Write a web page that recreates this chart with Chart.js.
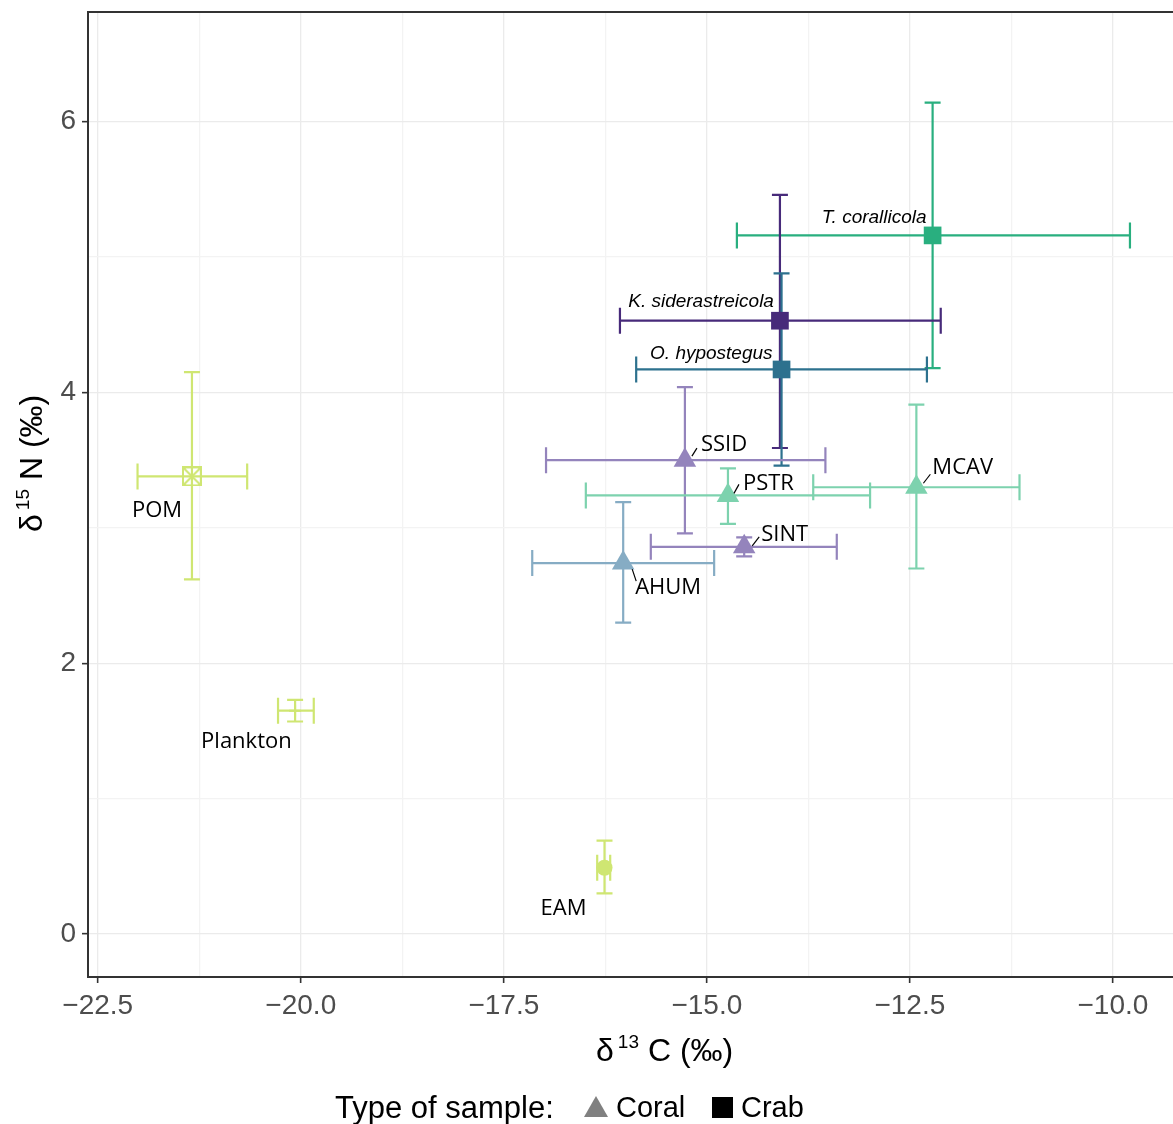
<!DOCTYPE html>
<html><head><meta charset="utf-8">
<script src="https://cdn.jsdelivr.net/npm/chart.js@4"></script>
<style>html,body{margin:0;padding:0;background:#fff}#wrap{width:1173px;height:1124px;position:relative}</style>
</head><body><div id="wrap"><canvas id="c"></canvas></div>
<script>
// ---------- data ----------
const samples   = ['T. corallicola','K. siderastreicola','O. hypostegus','SSID','PSTR','MCAV','SINT','AHUM','POM','Plankton','EAM'];
const sampleType= ['Crab','Crab','Crab','Coral','Coral','Coral','Coral','Coral','Source','Source','Source'];
const d13C      = [-12.22,-14.10,-14.08,-15.27,-14.74,-12.42,-14.54,-16.03,-21.34,-20.07,-16.26];
const d15N      = [  5.16,  4.53,  4.17,  3.50,  3.24,  3.30,  2.86,  2.74,  3.38,  1.65,  0.49];
const d13CLow   = [-14.63,-16.07,-15.87,-16.98,-16.49,-13.69,-15.69,-17.15,-22.01,-20.28,-16.35];
const d13CHigh  = [ -9.79,-12.12,-12.29,-13.54,-12.99,-11.15,-13.40,-14.91,-20.66,-19.84,-16.19];
const d15NLow   = [  4.18,  3.59,  3.46,  2.96,  3.03,  2.70,  2.79,  2.30,  2.62,  1.57,  0.30];
const d15NHigh  = [  6.14,  5.46,  4.88,  4.04,  3.44,  3.91,  2.93,  3.19,  4.15,  1.73,  0.69];
const xTicks = [-22.5,-20,-17.5,-15,-12.5,-10];
const xMinor = [-21.25,-18.75,-16.25,-13.75,-11.25];
const yTicks = [0,2,4,6];
const yMinor = [1,3,5];
const legendTitle = 'Type of sample:';
const legendItems = ['Coral','Crab'];

// ---------- styles / layout ----------
const colors = ['#29AF7F','#472A7A','#2D718E','#9484BC','#7DD2AE','#7DD2AE','#9484BC','#86ACC4','#CFE672','#CFE672','#CFE672'];
const labelLayout = [
  {dx:-6, dy:-12, align:'right', italic:true},
  {dx:-6, dy:-14, align:'right', italic:true},
  {dx:-9, dy:-10, align:'right', italic:true},
  {dx:16, dy:-9,  align:'left', lead:[7,-4,12,-12]},
  {dx:15, dy:-5,  align:'left', lead:[6,-2,11,-11]},
  {dx:16, dy:-13, align:'left', lead:[7,-4,14,-13]},
  {dx:17, dy:-6,  align:'left', lead:[8,-1,15,-10]},
  {dx:12, dy:31,  align:'left', lead:[9,6,13,18]},
  {dx:-60,dy:41,  align:'left'},
  {dx:-94,dy:37,  align:'left'},
  {dx:-64,dy:47,  align:'left'}
];
function boxX(color){
  const c=document.createElement('canvas'); c.width=20; c.height=20;
  const g=c.getContext('2d'); g.strokeStyle=color; g.lineWidth=2;
  g.strokeRect(1,1,18,18); g.beginPath(); g.moveTo(2,2); g.lineTo(18,18); g.moveTo(18,2); g.lineTo(2,18); g.stroke();
  return c;
}
const pStyles = samples.map((s,i)=> sampleType[i]==='Crab' ? 'rect' : sampleType[i]==='Coral' ? 'triangle' :
  (s==='POM' ? boxX(colors[i]) : s==='Plankton' ? 'cross' : 'circle'));
const pRadius = samples.map((s,i)=> sampleType[i]==='Crab' ? 12.5 : sampleType[i]==='Coral' ? 13 : (s==='Plankton'?6:8));
const pBorder = samples.map((s)=> s==='Plankton' ? 2 : 0);
const TICKFONT = '"Liberation Sans", Arial, sans-serif';

const errorBars = {
  id:'errorBars',
  beforeDatasetsDraw(chart){
    const {ctx, scales:{x,y}} = chart;
    ctx.save(); ctx.lineWidth=2.2; ctx.lineCap='butt';
    samples.forEach((s,i)=>{
      const px=x.getPixelForValue(d13C[i]), py=y.getPixelForValue(d15N[i]);
      const xl=x.getPixelForValue(d13CLow[i]), xh=x.getPixelForValue(d13CHigh[i]);
      const yl=y.getPixelForValue(d15NLow[i]), yh=y.getPixelForValue(d15NHigh[i]);
      ctx.strokeStyle=colors[i]; ctx.beginPath();
      ctx.moveTo(xl,py); ctx.lineTo(xh,py);
      ctx.moveTo(xl,py-13); ctx.lineTo(xl,py+13);
      ctx.moveTo(xh,py-13); ctx.lineTo(xh,py+13);
      ctx.moveTo(px,yl); ctx.lineTo(px,yh);
      ctx.moveTo(px-8,yl); ctx.lineTo(px+8,yl);
      ctx.moveTo(px-8,yh); ctx.lineTo(px+8,yh);
      ctx.stroke();
    });
    ctx.restore();
  },
  afterDatasetsDraw(chart){
    const {ctx, scales:{x,y}} = chart;
    ctx.save(); ctx.fillStyle='#000'; ctx.strokeStyle='#000'; ctx.lineWidth=1.2; ctx.textBaseline='alphabetic';
    samples.forEach((s,i)=>{
      const L=labelLayout[i];
      const px=x.getPixelForValue(d13C[i]), py=y.getPixelForValue(d15N[i]);
      ctx.font = L.italic ? 'italic 19px "Liberation Sans", Arial, sans-serif' : '22px "Open Sans", sans-serif';
      ctx.textAlign=L.align;
      ctx.fillText(s, px+L.dx, py+L.dy);
      if(L.lead){ ctx.beginPath(); ctx.moveTo(px+L.lead[0],py+L.lead[1]); ctx.lineTo(px+L.lead[2],py+L.lead[3]); ctx.stroke(); }
    });
    ctx.restore();
  },
  afterDraw(chart){
    const {ctx, chartArea:a} = chart;
    ctx.save();
    ctx.strokeStyle='#333'; ctx.lineWidth=2;
    ctx.strokeRect(a.left, a.top, a.right-a.left+4, a.bottom-a.top);
    ctx.fillStyle='#000'; ctx.textBaseline='alphabetic'; ctx.textAlign='left';
    const big='32px "Liberation Sans", Arial, sans-serif', sm='19px "Liberation Sans", Arial, sans-serif';
    function title(x0,y0,sup,rest){
      let cx=x0;
      ctx.font=big; ctx.fillText('δ',cx,y0); cx+=ctx.measureText('δ').width+4;
      ctx.font=sm; ctx.fillText(sup,cx,y0-13); cx+=ctx.measureText(sup).width+9;
      ctx.font=big; ctx.fillText(rest,cx,y0);
    }
    title(596,1061,'13','C (‰)');
    ctx.translate(42,532); ctx.rotate(-Math.PI/2);
    title(0,0,'15','N (‰)');
    ctx.setTransform(1,0,0,1,0,0);
    // legend
    ctx.font='31px "Liberation Sans", Arial, sans-serif'; ctx.fillStyle='#000';
    ctx.fillText(legendTitle,335,1118);
    ctx.font='29px "Liberation Sans", Arial, sans-serif';
    ctx.fillStyle='#808080'; ctx.beginPath(); ctx.moveTo(596,1096); ctx.lineTo(608,1117); ctx.lineTo(584,1117); ctx.closePath(); ctx.fill();
    ctx.fillStyle='#000'; ctx.fillText(legendItems[0],616,1117);
    ctx.fillRect(712,1097,21,21);
    ctx.fillText(legendItems[1],741,1117);
    ctx.restore();
  }
};

function zeroPad(ax){ ax.paddingTop=0; ax.paddingBottom=0; ax.paddingLeft=0; ax.paddingRight=0; }
const minorX=new Set(xMinor), minorY=new Set(yMinor);
new Chart(document.getElementById('c'),{
  type:'scatter',
  data:{datasets:[{
    data: samples.map((s,i)=>({x:d13C[i], y:d15N[i]})),
    pointStyle:pStyles, pointRadius:pRadius, pointBackgroundColor:colors, pointBorderColor:colors, pointBorderWidth:pBorder
  }]},
  plugins:[errorBars],
  options:{
    responsive:true, maintainAspectRatio:false, animation:false, events:[],
    layout:{autoPadding:false, padding:{top:12,left:0,right:0,bottom:0}},
    plugins:{legend:{display:false}, tooltip:{enabled:false}},
    scales:{
      x:{type:'linear', min:-22.62, max:-9.26,
        afterBuildTicks(ax){ ax.ticks=[...xTicks,...xMinor].sort((a,b)=>a-b).map(v=>({value:v})); },
        afterFit(ax){ ax.height=147; zeroPad(ax); },
        border:{display:false},
        grid:{color:c=>minorX.has(c.tick&&c.tick.value)?'#F3F3F3':'#EBEBEB', lineWidth:1.3, tickLength:6,
              tickColor:c=>minorX.has(c.tick&&c.tick.value)?'rgba(0,0,0,0)':'#333', tickWidth:1.6},
        ticks:{autoSkip:false, maxRotation:0, padding:6, color:'#4D4D4D', font:{family:TICKFONT,size:28},
          callback:v=> xTicks.includes(v) ? v.toFixed(1).replace('-','\u2212') : ''}
      },
      y:{type:'linear', min:-0.317, max:6.81,
        afterBuildTicks(ax){ ax.ticks=[...yTicks,...yMinor].sort((a,b)=>a-b).map(v=>({value:v})); },
        afterFit(ax){ ax.width=88; zeroPad(ax); },
        border:{display:false},
        grid:{color:c=>minorY.has(c.tick&&c.tick.value)?'#F3F3F3':'#EBEBEB', lineWidth:1.3, tickLength:6,
              tickColor:c=>minorY.has(c.tick&&c.tick.value)?'rgba(0,0,0,0)':'#333', tickWidth:1.6},
        ticks:{autoSkip:false, padding:6, color:'#4D4D4D', font:{family:TICKFONT,size:28},
          callback:v=> yTicks.includes(v) ? String(v) : ''}
      }
    }
  }
});
</script></body></html>
